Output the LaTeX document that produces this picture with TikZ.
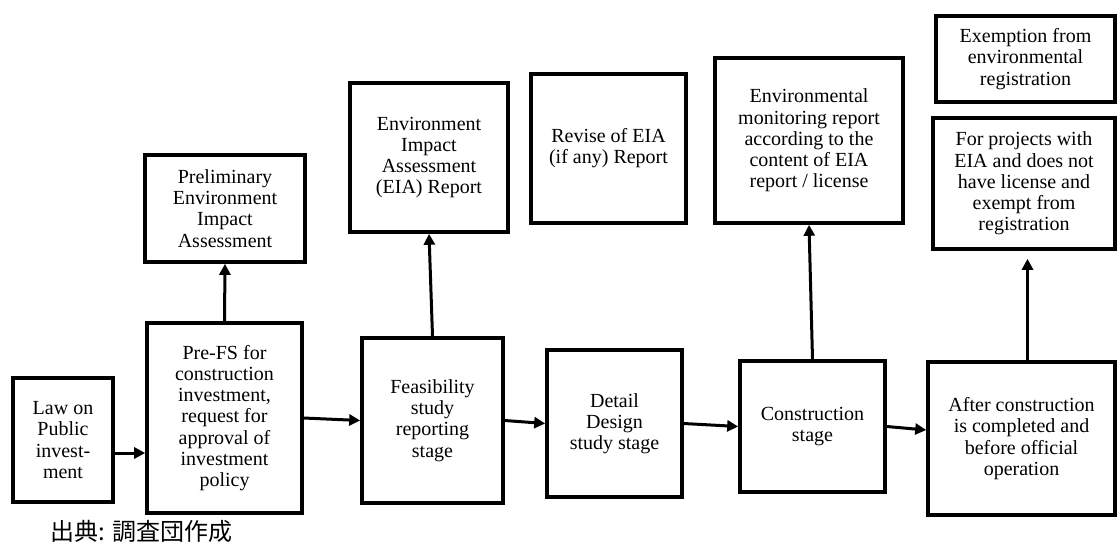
\documentclass[tikz,border=0pt]{standalone}
\usepackage{fontspec}
\setmainfont{Liberation Serif}
\newfontfamily\cjk{Noto Sans CJK JP}
\usetikzlibrary{arrows.meta}
\begin{document}
\begin{tikzpicture}[x=0.5pt, y=-0.5pt,
    caja/.style={draw, line width=1.8pt, align=center, inner sep=2pt,
        font=\fontsize{10}{10.6}\selectfont},
    flecha/.style={line width=1.5pt, -{Triangle[length=5.5pt,width=5.5pt]}}]
    \useasboundingbox (0,0) rectangle (1117,542);

    % Etapas
    \node[caja, minimum width=50pt, minimum height=62pt] (ley) at (63,440) {Law on\\Public\\invest-\\ment};
    \node[caja, minimum width=77.5pt, minimum height=95pt] (prefs) at (224.5,418) {Pre-FS for\\construction\\investment,\\request for\\approval of\\investment\\policy};
    \node[caja, minimum width=70.5pt, minimum height=82.5pt] (factib) at (432.5,420.5) {Feasibility\\study\\reporting\\stage};
    \node[caja, minimum width=67.5pt, minimum height=73.5pt] (detalle) at (614.5,423.5) {Detail\\Design\\study stage};
    \node[caja, minimum width=72.5pt, minimum height=65.5pt] (constr) at (812.5,426.5) {Construction\\stage};
    \node[caja, minimum width=93.5pt, minimum height=76.5pt] (despues) at (1021.5,438.5) {After construction\\is completed and\\before official\\operation};

    % Documentos
    \node[caja, minimum width=80pt, minimum height=53.5pt] (prelim) at (225,208.5) {Preliminary\\Environment\\Impact\\Assessment};
    \node[caja, minimum width=79pt, minimum height=74.5pt] (eia) at (429,157.5) {Environment\\Impact\\Assessment\\(EIA) Report};
    \node[caja, minimum width=77.5pt, minimum height=74.5pt] (revision) at (608.5,148.5) {Revise of EIA\\(if any) Report};
    \node[caja, minimum width=94pt, minimum height=82.5pt] (monitoreo) at (809,140.5) {Environmental\\monitoring report\\according to the\\content of EIA\\report / license};
    \node[caja, minimum width=89.5pt, minimum height=43pt] (exencion) at (1025.5,59) {Exemption from\\environmental\\registration};
    \node[caja, minimum width=91pt, minimum height=65.5pt] (proyectos) at (1024,183.5) {For projects with\\EIA and does not\\have license and\\exempt from\\registration};

    % Flechas horizontales
    \draw[flecha] ([yshift=-6.5pt]ley.east) -- ([yshift=-6.5pt]ley.east -| prefs.west);
    \draw[flecha] (prefs.east) -- (factib.west);
    \draw[flecha] (factib.east) -- (detalle.west);
    \draw[flecha] (detalle.east) -- (constr.west);
    \draw[flecha] (constr.east) -- ([yshift=4.25pt]despues.west);

    % Flechas verticales
    \draw[flecha] (prefs.north) -- (prelim.south);
    \draw[flecha] (factib.north) -- (eia.south);
    \draw[flecha] (constr.north) -- (monitoreo.south);
    \draw[flecha, shorten >=4pt] ([xshift=3pt]despues.north) -- ([xshift=3pt]despues.north |- proyectos.south);

    % Fuente
    \node[font=\cjk\fontsize{12}{13}\selectfont, anchor=west, inner sep=0pt] (fuente) at (50,531) {出典: 調査団作成};
\end{tikzpicture}
\end{document}
